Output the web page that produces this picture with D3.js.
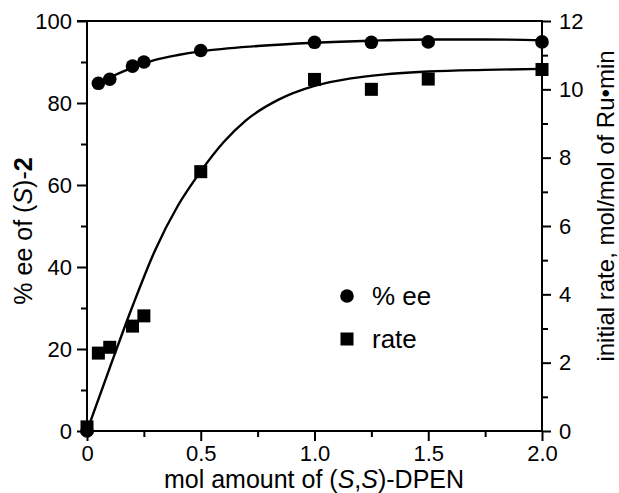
<!DOCTYPE html>
<html><head><meta charset="utf-8">
<script src="https://cdn.jsdelivr.net/npm/d3@7"></script>
<style>body{margin:0;background:#fff}svg{display:block}text{font-family:"Liberation Sans",Arial,sans-serif;fill:#000}</style>
</head><body>
<svg id="c" width="619" height="493"></svg>
<script>
// Measured data
const dpen = [0, 0.05, 0.1, 0.2, 0.25, 0.5, 1.0, 1.25, 1.5, 2.0];
const eeValues = [0, 84.8, 85.8, 89.0, 90.0, 92.8, 94.8, 94.8, 94.9, 94.9];
const rateValues = [0.12, 2.28, 2.45, 3.07, 3.37, 7.59, 10.29, 10.0, 10.3, 10.58];
// Fitted curves
const eeCurveX = [0.04, 0.1, 0.2, 0.3, 0.4, 0.5, 0.75, 1.0, 1.25, 1.5, 1.75, 2.0];
const eeCurveY = [84.6, 86.2, 88.6, 90.5, 91.7, 92.6, 93.9, 94.7, 95.2, 95.5, 95.5, 95.3];
const rateCurveX = [0, 0.1, 0.2, 0.3, 0.4, 0.5, 0.6, 0.7, 0.84, 1.0, 1.16, 1.3, 1.5, 1.75, 2.0];
const rateCurveY = [0, 1.85, 3.65, 5.3, 6.6, 7.6, 8.45, 9.1, 9.69, 10.1, 10.32, 10.43, 10.52, 10.57, 10.6];
const xTicks = [0, 0.5, 1.0, 1.5, 2.0];
const xMinor = [0.25, 0.75, 1.25, 1.75];
const leftTicks = [0, 20, 40, 60, 80, 100];
const leftMinor = [10, 30, 50, 70, 90];
const rightTicks = [0, 2, 4, 6, 8, 10, 12];
const rightMinor = [1, 3, 5, 7, 9, 11];
const legendLabels = ["% ee", "rate"];

const svg = d3.select("#c");
const L = 87, R = 542, T = 21, B = 431;
const x = d3.scaleLinear().domain([0, 2]).range([L, R]);
const yL = d3.scaleLinear().domain([0, 100]).range([B, T]);
const yR = d3.scaleLinear().domain([0, 12]).range([B, T]);
const FS = 22, TFS = 26;

function styleAxis(g) {
  g.select(".domain").remove();
  g.selectAll("line").attr("stroke", "#000").attr("stroke-width", 2);
  g.selectAll("text").style("font-size", FS + "px").style("font-family", "Liberation Sans, Arial, sans-serif");
}
const gx = svg.append("g").attr("transform", `translate(0,${B})`)
  .call(d3.axisBottom(x).tickValues(xTicks).tickSize(10).tickPadding(4).tickFormat(d => d === 0 ? "0" : d3.format(".1f")(d)));
styleAxis(gx);
const gxm = svg.append("g").attr("transform", `translate(0,${B})`)
  .call(d3.axisBottom(x).tickValues(xMinor).tickSize(6).tickFormat(""));
styleAxis(gxm);
const gl = svg.append("g").attr("transform", `translate(${L},0)`)
  .call(d3.axisLeft(yL).tickValues(leftTicks).tickSize(10).tickPadding(5));
styleAxis(gl);
const glm = svg.append("g").attr("transform", `translate(${L},0)`)
  .call(d3.axisLeft(yL).tickValues(leftMinor).tickSize(6).tickFormat(""));
styleAxis(glm);
const gr = svg.append("g").attr("transform", `translate(${R},0)`)
  .call(d3.axisRight(yR).tickValues(rightTicks).tickSize(9).tickPadding(8));
styleAxis(gr);
const grm = svg.append("g").attr("transform", `translate(${R},0)`)
  .call(d3.axisRight(yR).tickValues(rightMinor).tickSize(6).tickFormat(""));
styleAxis(grm);

const frame = svg.append("g").attr("stroke", "#000").attr("stroke-width", 2).attr("fill", "none");
frame.append("line").attr("x1", L).attr("x2", L).attr("y1", T).attr("y2", B + 1);
frame.append("line").attr("x1", R).attr("x2", R).attr("y1", T).attr("y2", B + 1);
frame.append("line").attr("x1", L - 1).attr("x2", R + 1).attr("y1", B).attr("y2", B);
frame.append("line").attr("x1", L - 10).attr("x2", R + 1).attr("y1", T).attr("y2", T);

const eeLine = d3.line().x(d => x(d[0])).y(d => yL(d[1])).curve(d3.curveMonotoneX);
const rateLine = d3.line().x(d => x(d[0])).y(d => yR(d[1])).curve(d3.curveMonotoneX);
svg.append("path").datum(d3.zip(eeCurveX, eeCurveY)).attr("d", eeLine)
  .attr("fill", "none").attr("stroke", "#000").attr("stroke-width", 2.4);
svg.append("path").datum(d3.zip(rateCurveX, rateCurveY)).attr("d", rateLine)
  .attr("fill", "none").attr("stroke", "#000").attr("stroke-width", 2.4);

const sq = 13, rad = 6.8;
svg.append("g").selectAll("rect").data(d3.zip(dpen, rateValues)).join("rect")
  .attr("x", d => x(d[0]) - sq / 2).attr("y", d => yR(d[1]) - sq / 2)
  .attr("width", sq).attr("height", sq).attr("fill", "#000");
svg.append("g").selectAll("circle").data(d3.zip(dpen, eeValues)).join("circle")
  .attr("cx", d => x(d[0])).attr("cy", d => yL(d[1])).attr("r", rad).attr("fill", "#000");

const lg = svg.append("g");
lg.append("circle").attr("cx", 347).attr("cy", 296).attr("r", rad).attr("fill", "#000");
lg.append("rect").attr("x", 347 - sq / 2).attr("y", 339 - sq / 2).attr("width", sq).attr("height", sq).attr("fill", "#000");
lg.append("text").attr("x", 372).attr("y", 305).style("font-size", TFS + "px").text(legendLabels[0]);
lg.append("text").attr("x", 372).attr("y", 348).style("font-size", TFS + "px").text(legendLabels[1]);

const xt = svg.append("text").attr("x", 314).attr("y", 488).attr("text-anchor", "middle").style("font-size", "25px");
xt.append("tspan").text("mol amount of (");
xt.append("tspan").style("font-style", "italic").text("S");
xt.append("tspan").text(",");
xt.append("tspan").style("font-style", "italic").text("S");
xt.append("tspan").text(")-DPEN");

const lt = svg.append("text").attr("transform", "translate(32,231) rotate(-90)").attr("text-anchor", "middle").style("font-size", "25px");
lt.append("tspan").text("% ee of (");
lt.append("tspan").style("font-style", "italic").text("S");
lt.append("tspan").text(")-");
lt.append("tspan").style("font-weight", "bold").text("2");

svg.append("text").attr("transform", "translate(614,206) rotate(-90)").attr("text-anchor", "middle")
  .style("font-size", "24px").text("initial rate, mol/mol of Ru\u2022min");
</script>
</body></html>
